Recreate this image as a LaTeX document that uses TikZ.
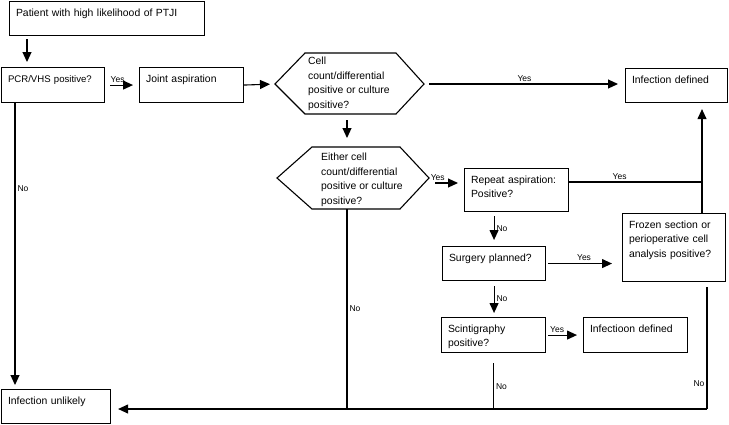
\documentclass[tikz,border=0pt]{standalone}
\usepackage{fontspec}
\setmainfont{Liberation Sans}
\usetikzlibrary{arrows.meta}
\tikzstyle{box} = [rectangle, draw, line width=1.1pt, anchor=north west, align=left, inner xsep=6.5pt, inner ysep=0pt, text height=14.5pt, font=\fontsize{10.4}{14.5}\selectfont]
\tikzstyle{hexa} = [draw, line width=1.1pt]
\tikzstyle{hexatext} = [anchor=north west, align=left, inner sep=0pt, font=\fontsize{10.4}{14.5}\selectfont]
\tikzstyle{arrow} = [line width=1.1pt, -{Triangle[length=10pt,width=9pt]}]
\tikzstyle{line} = [line width=1.1pt]
\tikzstyle{lbl} = [font=\fontsize{8.5}{10}\selectfont, inner sep=2pt]
\begin{document}
\begin{tikzpicture}[x=1pt,y=-1pt]
            \useasboundingbox (0,0) rectangle (729,424);
            % boxes
            \node [box, text width=182pt, text depth=19.5pt] at (9,1) (patient) {Patient with high likelihood of PTJI};
            \node [box, text width=90pt, text depth=20.5pt, font=\fontsize{9.6}{14.5}\selectfont] at (1,67) (pcr) {PCR/VHS positive?};
            \node [box, text width=91pt, text depth=20.5pt] at (139,67) (joint) {Joint aspiration};
            \node [box, text width=89pt, text depth=19.5pt] at (625,68) (infdef) {Infection defined};
            \node [box, text width=91pt, text depth=28.5pt] at (464,168) (repeat) {Repeat aspiration:\\Positive?};
            \node [box, text width=90pt, text depth=19.5pt] at (442,246) (surgery) {Surgery planned?};
            \node [box, text width=90pt, text depth=53.5pt] at (622,213) (frozen) {Frozen section or\\perioperative cell\\analysis positive?};
            \node [box, text width=91pt, text depth=20.5pt] at (441,317) (scint) {Scintigraphy\\positive?};
            \node [box, text width=91pt, text depth=20.5pt] at (583,317) (infdefb) {Infectioon defined};
            \node [box, text width=96pt, text depth=19.5pt] at (1,389) (unlikely) {Infection unlikely};
            % hexagons
            \coordinate (hexaW) at (275,84);
            \coordinate (hexaNW) at (305,53);
            \coordinate (hexaNE) at (396,53);
            \coordinate (hexaE) at (424,84);
            \coordinate (hexaSE) at (396,114);
            \coordinate (hexaSW) at (305,114);
            \coordinate (hexaS) at (347,114);
            \draw [hexa] (hexaW) -- (hexaNW) -- (hexaNE) -- (hexaE) -- (hexaSE) -- (hexaSW) -- cycle;
            \node [hexatext] at (308,57) (hexa) {Cell\\count/differential\\positive or culture\\positive?};
            \coordinate (hexbW) at (277,178);
            \coordinate (hexbNW) at (312,147);
            \coordinate (hexbNE) at (400,147);
            \coordinate (hexbE) at (429,178);
            \coordinate (hexbSE) at (400,209);
            \coordinate (hexbSW) at (312,209);
            \coordinate (hexbN) at (347,147);
            \coordinate (hexbS) at (347,209);
            \draw [hexa] (hexbW) -- (hexbNW) -- (hexbNE) -- (hexbE) -- (hexbSE) -- (hexbSW) -- cycle;
            \node [hexatext] at (321,153) (hexb) {Either cell\\count/differential\\positive or culture\\positive?};
            % joints of lines
            \coordinate (junction) at (702,182);
            \coordinate (bottomR) at (707,409);
            % connectors
            \draw [arrow, shorten <=3pt, shorten >=5pt] ([xshift=18pt]patient.south west) -- ([xshift=18pt]patient.south west |- pcr.north);
            \draw [arrow, shorten <=5pt, shorten >=6pt] (pcr) -- node[lbl, above, pos=0.37] {Yes} (joint);
            \draw [arrow, shorten >=5pt] (joint.east) -- (hexaW);
            \draw [arrow, shorten <=5pt, shorten >=7pt] (hexaE) -- node[lbl, above] {Yes} (hexaE -| infdef.west);
            \draw [arrow, shorten <=6pt, shorten >=9pt] (hexaS) -- (hexbN);
            \draw [arrow, shorten <=6pt, shorten >=6pt] ([yshift=-5pt]hexbE) -- node[lbl, above, pos=0.25] {Yes} ([yshift=-5pt]hexbE -| repeat.west);
            \draw [line] (repeat.east |- junction) -- node[lbl, above, pos=0.38] {Yes} (junction);
            \draw [arrow, shorten >=6pt] (frozen.north -| junction) -- (infdef.south -| junction);
            \draw [arrow, shorten <=4pt, shorten >=6pt] (repeat.south -| surgery.north) -- node[lbl, right] {No} (surgery.north);
            \draw [arrow, shorten <=2pt, shorten >=10pt] (surgery.east) -- node[lbl, above] {Yes} (surgery.east -| frozen.west);
            \draw [arrow, shorten <=5pt, shorten >=4pt] (surgery.south) -- node[lbl, right] {No} (surgery.south |- scint.north);
            \draw [arrow, shorten <=2pt, shorten >=6pt] (scint.east) -- node[lbl, above, pos=0.3] {Yes} (infdefb.west);
            \draw [line, shorten <=10pt] (scint.south) -- node[lbl, right, pos=0.6] {No} (scint.south |- bottomR);
            \draw [line, shorten <=5pt] (frozen.south -| bottomR) -- node[lbl, left, pos=0.8] {No} (bottomR);
            \draw [line] (hexbS) -- node[lbl, right] {No} (hexbS |- bottomR);
            \draw [arrow, shorten >=7pt] (bottomR) -- (bottomR -| unlikely.east);
            \draw [arrow, shorten >=4pt] ([xshift=14pt]pcr.south west) -- node[lbl, right, pos=0.3] {No} ([xshift=14pt]unlikely.north west);
\end{tikzpicture}
\end{document}
